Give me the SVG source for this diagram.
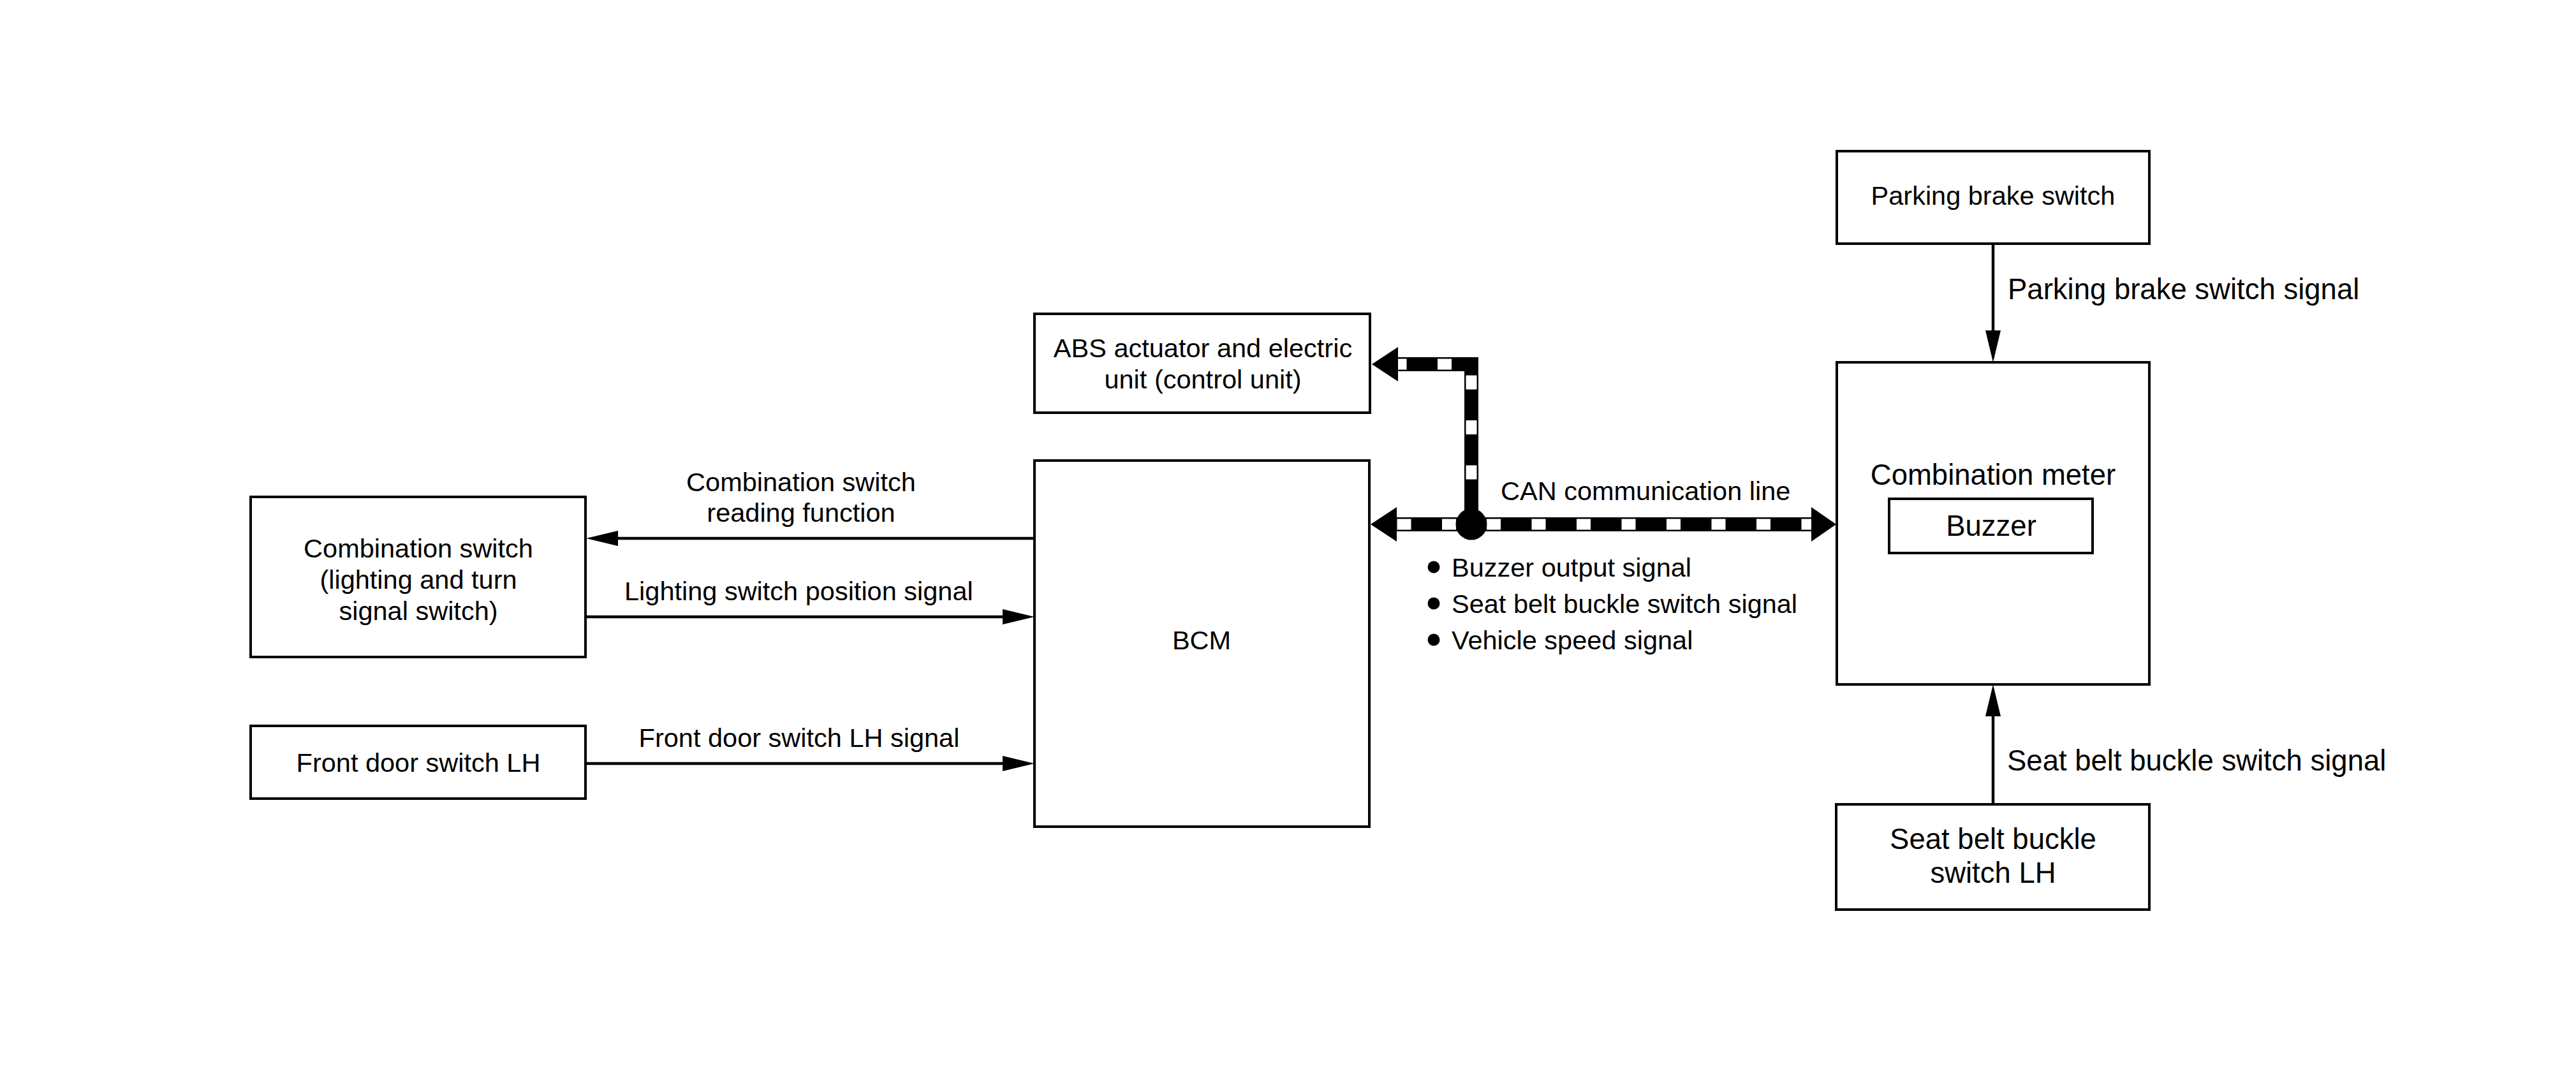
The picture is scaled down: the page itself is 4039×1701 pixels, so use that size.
<svg xmlns="http://www.w3.org/2000/svg" width="4039" height="1701" viewBox="0 0 4039 1701">
<style>
.box{fill:#fff;stroke:#000;stroke-width:4}
.t{font-family:"Liberation Sans",Arial,Helvetica,sans-serif;font-size:41.5px;fill:#000}
.tl{font-size:45.5px}
.m{text-anchor:middle}
.ln{stroke:#000;stroke-width:4.5;fill:none}
.can{stroke:#000;stroke-width:22;fill:none;stroke-linejoin:miter}
.dash{stroke:#fff;stroke-width:17;fill:none;stroke-dasharray:22 48.5}
.hd{fill:#000}
</style>
<defs>
<marker id="ah" markerUnits="userSpaceOnUse" viewBox="0 0 50 24" markerWidth="50" markerHeight="24" refX="0" refY="12" orient="auto"><path d="M0,0 L50,12 L0,24 Z" fill="#000"/></marker>
</defs>
<rect x="0" y="0" width="4039" height="1701" fill="#fff"/>

<g id="combination-switch">
<rect class="box" x="393" y="779" width="525" height="251"/>
<text class="t m" x="656" y="874">Combination switch</text>
<text class="t m" x="656" y="923">(lighting and turn</text>
<text class="t m" x="656" y="972">signal switch)</text>
</g>
<g id="front-door-switch">
<rect class="box" x="393" y="1138" width="525" height="114"/>
<text class="t m" x="656" y="1210">Front door switch LH</text>
</g>
<g id="abs-unit">
<rect class="box" x="1622" y="492" width="526" height="155"/>
<text class="t m" x="1886" y="560">ABS actuator and electric</text>
<text class="t m" x="1886" y="609">unit (control unit)</text>
</g>
<g id="bcm">
<rect class="box" x="1622" y="722" width="525" height="574"/>
<text class="t m" x="1884" y="1018">BCM</text>
</g>
<g id="parking-brake-switch">
<rect class="box" x="2880" y="237" width="490" height="145"/>
<text class="t m" x="3125" y="321">Parking brake switch</text>
</g>
<g id="combination-meter">
<rect class="box" x="2880" y="568" width="490" height="505"/>
<text class="t tl m" x="3125" y="760">Combination meter</text>
<g id="buzzer">
<rect class="box" x="2962" y="782" width="319" height="85"/>
<text class="t tl m" x="3122" y="840">Buzzer</text>
</g>
</g>
<g id="seat-belt-buckle-switch">
<rect class="box" x="2879" y="1261" width="491" height="165"/>
<text class="t tl m" x="3125" y="1331">Seat belt buckle</text>
<text class="t tl m" x="3125" y="1384">switch LH</text>
</g>

<g id="connectors">
<line class="ln" x1="1622" y1="844" x2="969" y2="844" marker-end="url(#ah)"/>
<line class="ln" x1="918" y1="967" x2="1572" y2="967" marker-end="url(#ah)"/>
<line class="ln" x1="918" y1="1197" x2="1572" y2="1197" marker-end="url(#ah)"/>
<line class="ln" x1="3125" y1="382" x2="3125" y2="518" marker-end="url(#ah)"/>
<line class="ln" x1="3125" y1="1261" x2="3125" y2="1123" marker-end="url(#ah)"/>

<g id="can-line">
<path class="can" d="M2307 822 V571 H2191"/>
<path class="dash" d="M2307 822 V571 H2191"/>
<path class="can" d="M2189 822 H2841"/>
<path class="dash" d="M2307 822 H2189" style="stroke-dashoffset:46.5"/>
<path class="dash" d="M2307 822 H2841" style="stroke-dashoffset:46.5"/>
<polygon class="hd" points="2151,571 2192,544 2192,598"/>
<polygon class="hd" points="2149,822 2190,795 2190,849"/>
<polygon class="hd" points="2879,822 2840,795 2840,849"/>
<circle class="hd" cx="2307" cy="822" r="24.5"/>
</g>
</g>

<g id="labels">
<text class="t m" x="1256" y="770">Combination switch</text>
<text class="t m" x="1256" y="818">reading function</text>
<text class="t" x="979" y="941">Lighting switch position signal</text>
<text class="t m" x="1253" y="1171">Front door switch LH signal</text>
<text class="t" x="2353" y="784">CAN communication line</text>
<circle class="hd" cx="2248" cy="889" r="9.5"/>
<text class="t" x="2276" y="904">Buzzer output signal</text>
<circle class="hd" cx="2248" cy="946" r="9.5"/>
<text class="t" x="2276" y="961">Seat belt buckle switch signal</text>
<circle class="hd" cx="2248" cy="1003" r="9.5"/>
<text class="t" x="2276" y="1018">Vehicle speed signal</text>
<text class="t tl" x="3148" y="469">Parking brake switch signal</text>
<text class="t tl" x="3147" y="1208">Seat belt buckle switch signal</text>
</g>
</svg>
